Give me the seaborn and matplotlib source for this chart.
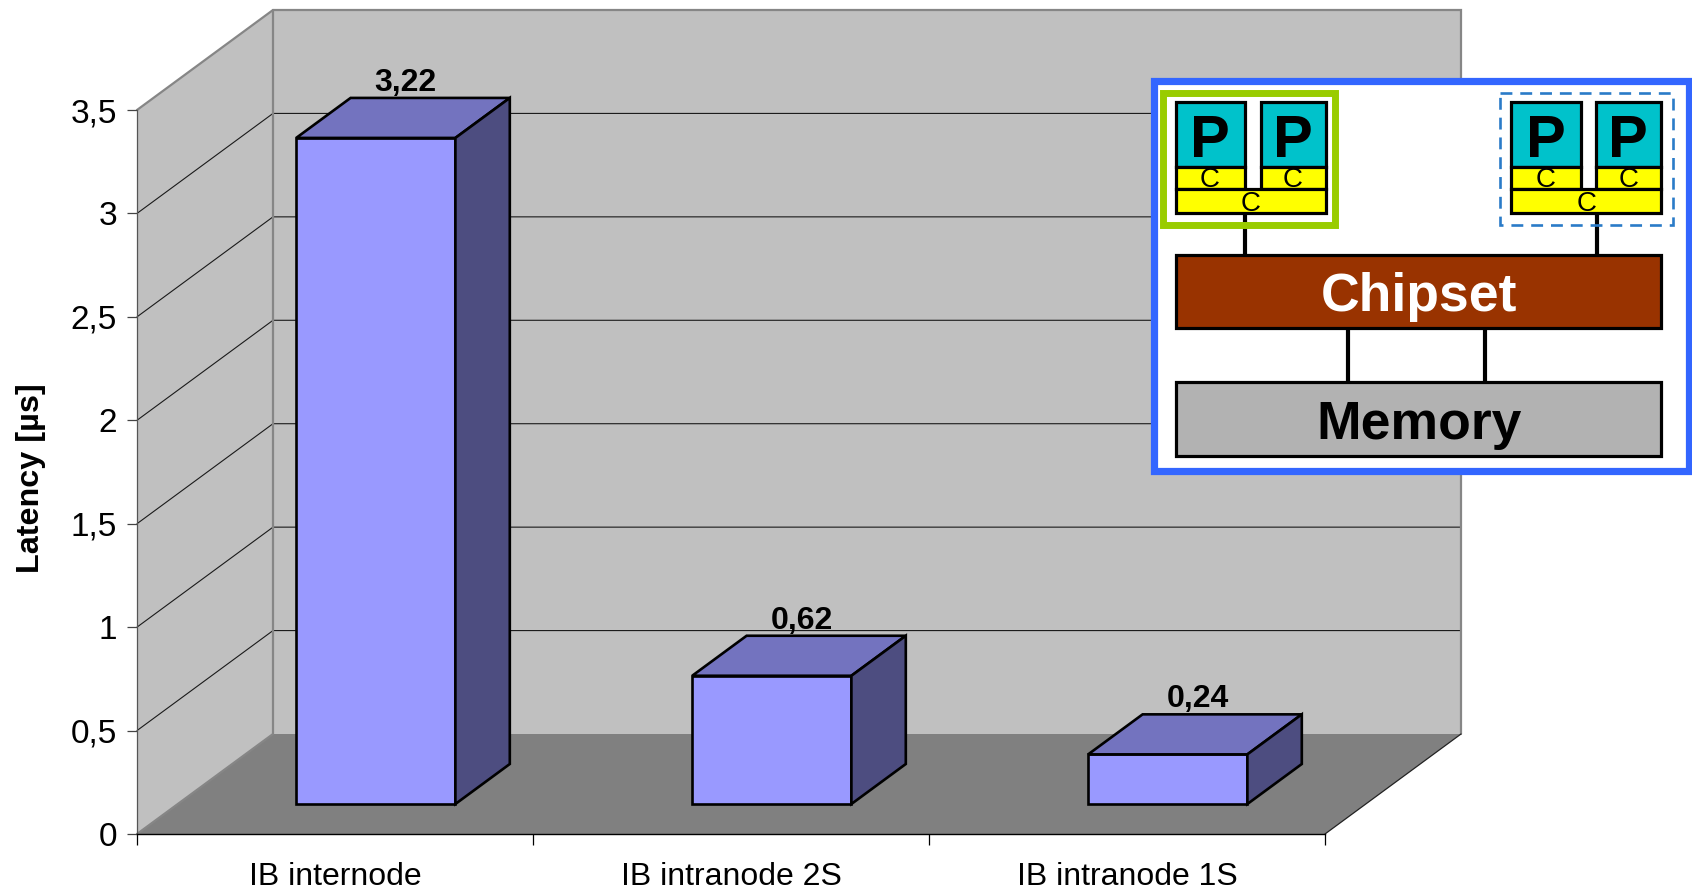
import matplotlib
matplotlib.use("Agg")
import matplotlib.pyplot as plt
import seaborn as sns
from matplotlib.patches import Polygon, Rectangle

categories = ["IB internode", "IB intranode 2S", "IB intranode 1S"]
latency_us = [3.22, 0.62, 0.24]
value_labels = ["3,22", "0,62", "0,24"]
y_ticks = [0, 0.5, 1, 1.5, 2, 2.5, 3, 3.5]
y_tick_labels = ["0", "0,5", "1", "1,5", "2", "2,5", "3", "3,5"]

sns.set_theme(style="white")
plt.rcParams["font.family"] = ["Liberation Sans", "DejaVu Sans"]
plt.rcParams["text.color"] = "black"

W, H = 1692, 891
fig = plt.figure(figsize=(W / 100, H / 100), dpi=100, facecolor="white")
ax = fig.add_axes([137 / W, (H - 834) / H, 1188 / W, 724 / H])

X_LO, X_HI = -0.5, 2.5
Y_LO, Y_HI = 0.0, 3.5

# Depth of the chart box along the receding axis, in data units.
DEPTH_X = 136 / (1188 / 3)
DEPTH_Y = 100 / (724 / 3.5)
BAR_NEAR = 0.30
BAR_FAR = 0.70

WALL = "#C0C0C0"
FLOOR = "#808080"
EDGE = "#868686"
BAR_FRONT = "#9999FF"
BAR_TOP = "#7373BF"
BAR_SIDE = "#4D4D80"


def proj(x, y, d):
    return (x + d * DEPTH_X, y + d * DEPTH_Y)


def face(points, **kw):
    ax.add_patch(Polygon(points, closed=True, clip_on=False, **kw))


# Box: left wall, back wall, floor
face([proj(X_LO, Y_LO, 0), proj(X_LO, Y_LO, 1), proj(X_LO, Y_HI, 1), proj(X_LO, Y_HI, 0)],
     facecolor=WALL, edgecolor="none", zorder=0.1)
face([proj(X_LO, Y_LO, 1), proj(X_HI, Y_LO, 1), proj(X_HI, Y_HI, 1), proj(X_LO, Y_HI, 1)],
     facecolor=WALL, edgecolor="none", zorder=0.1)
face([proj(X_LO, Y_LO, 0), proj(X_LO, Y_LO, 1), proj(X_HI, Y_LO, 1), proj(X_HI, Y_LO, 0)],
     facecolor=FLOOR, edgecolor="none", zorder=0.2)

# Gridlines run along the left wall and across the back wall
for v in y_ticks[1:-1]:
    xs, ys = zip(proj(X_LO, v, 0), proj(X_LO, v, 1), proj(X_HI, v, 1))
    ax.plot(xs, ys, color="#1a1a1a", lw=0.8, clip_on=False, zorder=0.3)

# Box outline
for pts in ([proj(X_LO, Y_HI, 0), proj(X_LO, Y_HI, 1), proj(X_HI, Y_HI, 1), proj(X_HI, Y_LO, 1)],
            [proj(X_LO, Y_HI, 1), proj(X_LO, Y_LO, 1), proj(X_LO, Y_LO, 0)]):
    xs, ys = zip(*pts)
    ax.plot(xs, ys, color=EDGE, lw=1.6, clip_on=False, zorder=0.35, solid_joinstyle="miter")
xs, ys = zip(proj(X_HI, Y_LO, 0), proj(X_HI, Y_LO, 1))
ax.plot(xs, ys, color="#222222", lw=0.9, clip_on=False, zorder=0.35)

# Front faces of the bars
sns.barplot(x=categories, y=latency_us, width=0.402, color=BAR_FRONT, saturation=1,
            edgecolor="black", linewidth=1.9, ax=ax, zorder=1)

near_dx, near_dy = proj(0, 0, BAR_NEAR)
far_dx, far_dy = proj(0, 0, BAR_FAR)
span_x, span_y = far_dx - near_dx, far_dy - near_dy

for bar, label in zip(list(ax.containers[0]), value_labels):
    x0 = bar.get_x() + near_dx
    y0 = bar.get_y() + near_dy
    w, h = bar.get_width(), bar.get_height()
    bar.set_x(x0)
    bar.set_y(y0)
    bar.set_clip_on(False)
    bar.set_joinstyle("miter")
    face([(x0, y0 + h), (x0 + w, y0 + h), (x0 + w + span_x, y0 + h + span_y), (x0 + span_x, y0 + h + span_y)],
         facecolor=BAR_TOP, edgecolor="black", linewidth=1.9, zorder=1.2, joinstyle="miter")
    face([(x0 + w, y0), (x0 + w + span_x, y0 + span_y), (x0 + w + span_x, y0 + h + span_y), (x0 + w, y0 + h)],
         facecolor=BAR_SIDE, edgecolor="black", linewidth=1.9, zorder=1.2, joinstyle="miter")
    ax.annotate(label, xy=(x0 + w / 2 + 0.5 * span_x, y0 + h + span_y), xytext=(2, 5.2),
                textcoords="offset points", ha="center", va="baseline",
                fontsize=23, fontweight="bold", color="black", annotation_clip=False, zorder=3)

ax.set_xlim(X_LO, X_HI)
ax.set_ylim(Y_LO, Y_HI)

# Axes, ticks and labels
ax.set_yticks(y_ticks)
ax.set_yticklabels(y_tick_labels, fontsize=24)
ax.tick_params(axis="y", left=True, length=7.5, width=0.9, color="#444444", pad=7, labelcolor="black")
ax.set_xticks([0, 1, 2])
ax.set_xticklabels(categories, fontsize=23)
ax.tick_params(axis="x", which="major", length=0, pad=20.5, labelcolor="black")
ax.set_xticks([-0.5, 0.5, 1.5, 2.5], minor=True)
ax.tick_params(axis="x", which="minor", bottom=True, length=8, width=0.9, color="black")
ax.set_xlabel("")
ax.set_ylabel("")
fig.text(31 / W, 1 - 478 / H, "Latency [µs]", rotation=90, ha="center", va="center",
         fontsize=23.3, fontweight="bold", color="black")

for side in ("top", "right"):
    ax.spines[side].set_visible(False)
ax.spines["bottom"].set_color("black")
ax.spines["bottom"].set_linewidth(1.0)
ax.spines["left"].set_color("#555555")
ax.spines["left"].set_linewidth(0.9)
ax.patch.set_visible(False)

# Node schematic, laid out in figure pixels on its own overlay
sk = fig.add_axes([0, 0, 1, 1], zorder=5)
sk.set_xlim(0, W)
sk.set_ylim(H, 0)
sk.axis("off")
sk.patch.set_visible(False)


def box(x0, y0, x1, y1, fc="none", ec="black", lw=2.3, **kw):
    sk.add_patch(Rectangle((x0, y0), x1 - x0, y1 - y0, facecolor=fc, edgecolor=ec, linewidth=lw,
                           joinstyle="miter", **kw))


def wire(x0, y0, x1, y1):
    sk.plot([x0, x1], [y0, y1], color="black", lw=3.0, solid_capstyle="butt", zorder=1)


box(1154, 81, 1688.5, 470.5, fc="white", ec="#3366FF", lw=5.2, zorder=0.5)
box(1163.2, 93.0, 1334.5, 224.5, ec="#99CC00", lw=5.0, zorder=1.5)
box(1500, 92.7, 1672.5, 225, ec="#2A7BC8", lw=1.9, linestyle=(0, (4.5, 3)), zorder=1.5)

wire(1245, 213, 1245, 254)
wire(1596.5, 213, 1596.5, 254)
wire(1348, 328, 1348, 382)
wire(1485, 328, 1485, 382)

for off in (0.0, 335.8):
    left_x, right_x, end_x = 1175.5 + off, 1260.6 + off, 1325.6 + off
    mid_x = 1245 + off
    box(left_x, 102.2, mid_x, 166.7, fc="#00C2CB", zorder=2)
    box(right_x, 102.2, end_x, 166.7, fc="#00C2CB", zorder=2)
    box(left_x, 166.7, mid_x, 189.3, fc="#FFFF00", zorder=2)
    box(right_x, 166.7, end_x, 189.3, fc="#FFFF00", zorder=2)
    box(left_x, 189.3, end_x, 213.3, fc="#FFFF00", zorder=2)
    for cx in (1210 + off, 1292.5 + off):
        sk.text(cx, 157.3, "P", ha="center", va="baseline", fontsize=43, fontweight="bold", zorder=3)
        sk.text(cx, 187, "C", ha="center", va="baseline", fontsize=20, zorder=3)
    sk.text(1250.5 + off, 210.7, "C", ha="center", va="baseline", fontsize=20, zorder=3)

box(1176.3, 255, 1660.5, 328, fc="#993300", zorder=2)
box(1176.3, 382, 1660.5, 456, fc="#B2B2B2", zorder=2)
sk.text(1419, 310.5, "Chipset", ha="center", va="baseline", color="white", fontsize=38.5,
        fontweight="bold", zorder=3)
sk.text(1419, 438.5, "Memory", ha="center", va="baseline", color="black", fontsize=38.5,
        fontweight="bold", zorder=3)

fig.savefig("out.png", dpi=100, facecolor="white")
